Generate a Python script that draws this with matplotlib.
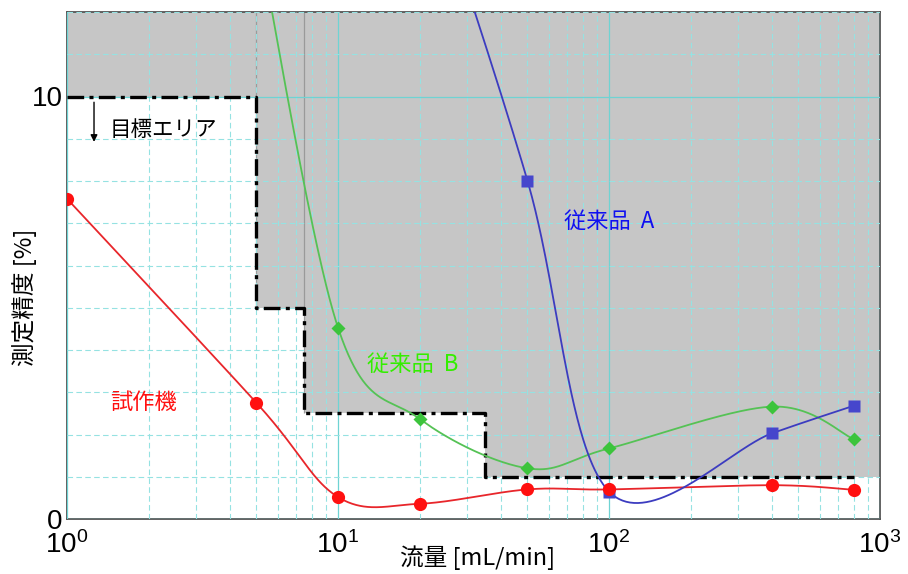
import numpy as np
import matplotlib
matplotlib.use("Agg")
import matplotlib.pyplot as plt

plt.rcParams['font.family'] = ['Liberation Sans', 'Noto Sans CJK JP', 'DejaVu Sans']
plt.rcParams['mathtext.fontset'] = 'custom'
plt.rcParams['mathtext.rm'] = 'Liberation Sans'
plt.rcParams['mathtext.it'] = 'Liberation Sans'

# ---- data ----
# prototype (試作機)
proto_x = [1, 5, 10, 20, 50, 100, 400, 800]
proto_y = [7.58, 2.75, 0.52, 0.36, 0.70, 0.70, 0.80, 0.69]
# conventional product B (first point lies above the plot)
prodB_x = [5, 10, 20, 50, 100, 400, 800]
prodB_y = [14.0, 4.53, 2.37, 1.20, 1.67, 2.66, 1.89]
# conventional product A (first point lies above the plot)
prodA_x = [20, 50, 100, 400, 800]
prodA_y = [16.0, 8.01, 0.65, 2.03, 2.68]
# target area boundary (step)
target_x = [1, 5, 7.5, 35, 800]
target_y = [10, 5, 2.5, 1, 1]
shade_right = 1000

xlim = (1, 1000)
ylim = (0, 12)


def smooth(xk, yk, n=80):
    """Catmull-Rom style Bezier smoothing in (log10 x, y) space"""
    P = np.column_stack([np.log10(np.asarray(xk, float)), np.asarray(yk, float)])
    m = len(P)
    t = np.linspace(0, 1, n)[:, None]
    out = []
    for i in range(m - 1):
        p0 = P[i - 1] if i > 0 else P[i]
        p1, p2 = P[i], P[i + 1]
        p3 = P[i + 2] if i + 2 < m else P[i + 1]
        c1 = p1 + (p2 - p0) / 6
        c2 = p2 - (p3 - p1) / 6
        B = ((1 - t) ** 3 * p1 + 3 * (1 - t) ** 2 * t * c1
             + 3 * (1 - t) * t ** 2 * c2 + t ** 3 * p2)
        out.append(B if i == 0 else B[1:])
    C = np.vstack(out)
    return 10 ** C[:, 0], C[:, 1]


fig = plt.figure(figsize=(9.08, 5.74), dpi=100)
ax = fig.add_axes([67 / 908, 55 / 574, 813 / 908, 507 / 574])
ax.set_xscale('log')
ax.set_xlim(*xlim)
ax.set_ylim(*ylim)

# shaded (outside target) region
sx = list(target_x[:-1]) + [shade_right]
sy = list(target_y[:-1]) + [target_y[-1]]
ax.fill_between(sx, sy, ylim[1], step='post', color='#c6c6c6', zorder=0.5, lw=0)
ax.vlines(target_x[1:3], target_y[1:3], ylim[1], color='#9a9a9a', lw=0.9, zorder=0.6)

# grid
ax.set_yticks([0, 10])
ax.set_yticks(np.arange(0, 13, 1), minor=True)
ax.grid(True, which='major', color='#6fd3d3', lw=0.9, ls='-', zorder=1)
ax.grid(True, which='minor', color='#95e2e2', lw=0.8, ls=(0, (5, 3)), zorder=1)
ax.set_axisbelow(False)

# target boundary
ax.step(target_x, target_y, where='post', color='black', lw=2.4,
        ls=(0, (5, 1.6, 1.2, 1.6)), zorder=3)

# curves
cx, cy = smooth(proto_x, proto_y)
ax.plot(cx, cy, color='#e8262b', lw=1.3, zorder=4)
ax.plot(proto_x, proto_y, 'o', color='#ff1010', ms=9.5, mec='none', zorder=6)

cx, cy = smooth(prodB_x, prodB_y)
ax.plot(cx, cy, color='#55c255', lw=1.3, zorder=4)
ax.plot(prodB_x, prodB_y, 'D', color='#3cc43c', ms=7, mec='none', zorder=6)

cx, cy = smooth(prodA_x, prodA_y)
ax.plot(cx, cy, color='#3c3cc0', lw=1.3, zorder=4)
ax.plot(prodA_x, prodA_y, 's', color='#4646cc', ms=9, mec='none', zorder=5)

# ticks
ax.set_xticks([1, 10, 100, 1000])
ax.set_xticklabels([r'$10^{0}$', r'$10^{1}$', r'$10^{2}$', r'$10^{3}$'])
ax.set_yticklabels(['0', '10'])
ax.tick_params(which='both', length=0)
ax.tick_params(axis='x', labelsize=20, pad=9)
ax.tick_params(axis='y', labelsize=20, pad=3)
for sp in ax.spines.values():
    sp.set_color('#555555')
    sp.set_linewidth(1.3)

jp = ['Noto Sans CJK JP', 'Liberation Sans']
ax.text(1.44, 9.2, '目標エリア', family=jp, fontsize=15.5, color='black',
        va='center', ha='left', zorder=7)
ax.annotate('', xy=(1.258, 8.86), xytext=(1.258, 9.93),
            arrowprops=dict(arrowstyle='-|>', color='black', lw=1.0,
                            mutation_scale=10), zorder=7)
ax.text(68, 7.05, '従来品  A', family=jp, fontsize=16, color='#1010f0',
        va='center', ha='left', zorder=7)
ax.text(12.8, 3.65, '従来品  B', family=jp, fontsize=16, color='#33ee00',
        va='center', ha='left', zorder=7)
ax.text(1.44, 2.75, '試作機', family=jp, fontsize=16, color='#ff1010',
        va='center', ha='left', zorder=7)

fig.text(478 / 908, 1 - 558 / 574, '流量 [mL/min]', family=jp, fontsize=17,
         ha='center', va='center')
fig.text(25 / 908, 1 - 297 / 574, '測定精度 [%]', family=jp, fontsize=17,
         ha='center', va='center', rotation=90)

fig.savefig('out.png', dpi=100)
